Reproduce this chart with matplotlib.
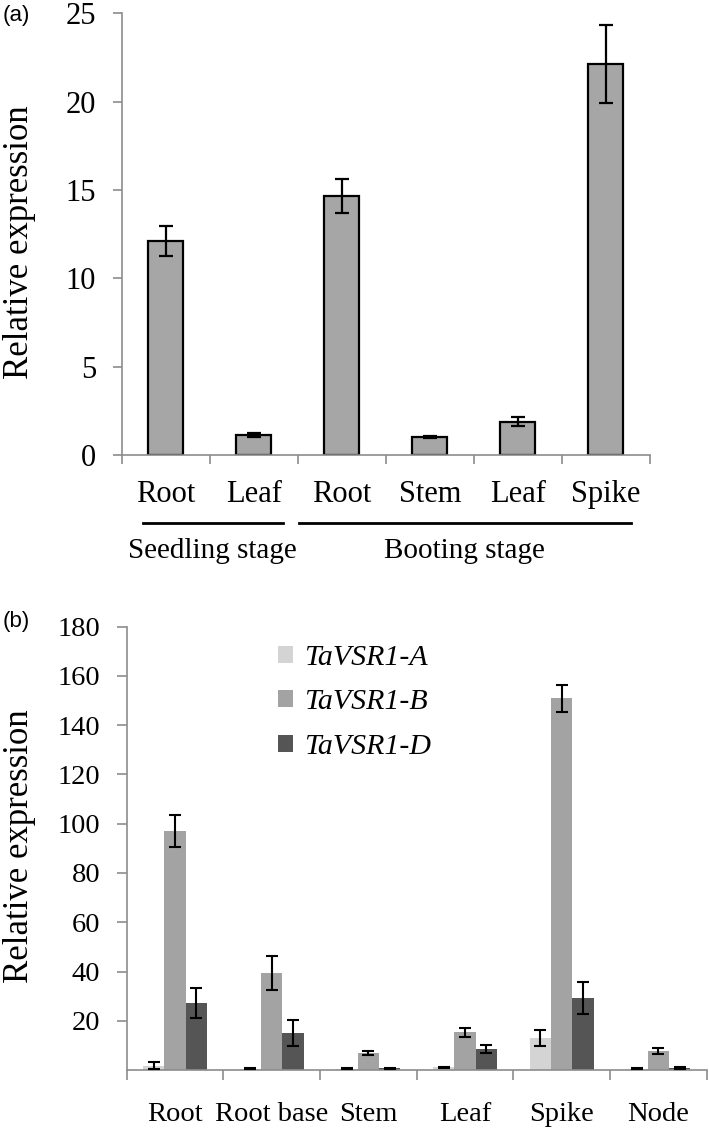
import numpy as np
import matplotlib
matplotlib.use("Agg")
import matplotlib.pyplot as plt

plt.rcParams['font.family'] = ['Liberation Serif', 'DejaVu Serif']

# panel (a)
a_tissues = ["Root", "Leaf", "Root", "Stem", "Leaf", "Spike"]
a_values = [12.1, 1.13, 14.65, 1.03, 1.88, 22.15]
a_errors = [0.85, 0.1, 0.95, 0.06, 0.25, 2.2]
a_groups = ["Seedling stage", "Booting stage"]

# panel (b)
b_tissues = ["Root", "Root base", "Stem", "Leaf", "Spike", "Node"]
b_genes = ["TaVSR1-A", "TaVSR1-B", "TaVSR1-D"]
b_A = [1.8, 0.6, 0.5, 1.2, 12.9, 0.5]
b_A_err = [1.3, 0.2, 0.2, 0.2, 3.2, 0.2]
b_B = [97.0, 39.4, 7.0, 15.4, 151.0, 7.8]
b_B_err = [6.5, 7.0, 0.7, 1.8, 5.5, 1.2]
b_D = [27.3, 15.1, 0.7, 8.5, 29.1, 0.8]
b_D_err = [6.0, 5.4, 0.3, 1.5, 6.5, 0.3]

spine_col = "#8c8c8c"

fig = plt.figure(figsize=(7.09, 11.28), dpi=100)

# ---------------- (a)
ax = fig.add_axes([0.1716, 0.5966, 0.745, 0.3916])
x = np.arange(len(a_tissues)) + 0.5
ax.bar(x, a_values, width=0.40, color="#a6a6a6", edgecolor="black", linewidth=1.6, zorder=2)
ax.errorbar(x, a_values, yerr=a_errors, fmt="none", ecolor="black", elinewidth=1.6,
            capsize=5, capthick=1.6, zorder=3)
ax.set_xlim(0, len(a_tissues))
ax.set_ylim(0, 25)
ax.set_yticks(np.arange(0, 26, 5))
ax.set_xticks(np.arange(0, len(a_tissues) + 1))
ax.set_xticklabels([])
ax.set_xticks(x, minor=True)
ax.set_xticklabels(a_tissues, minor=True)
ax.tick_params(axis="x", which="minor", length=0, pad=18, labelsize=22)
ax.tick_params(axis="x", which="major", length=6.5, width=1.2, color=spine_col, direction="out")
ax.tick_params(axis="y", length=6.5, width=1.2, color=spine_col, pad=12, labelsize=22)
for s in ["top", "right"]:
    ax.spines[s].set_visible(False)
for s in ["left", "bottom"]:
    ax.spines[s].set_color(spine_col)
    ax.spines[s].set_linewidth(1.2)

tr = ax.get_xaxis_transform()
ax.plot([0.24, 1.83], [-0.153, -0.153], color="black", lw=2, transform=tr, clip_on=False)
ax.plot([2.02, 5.78], [-0.153, -0.153], color="black", lw=2, transform=tr, clip_on=False)
ax.text(1.03, -0.218, a_groups[0], transform=tr, ha="center", va="center", fontsize=21)
ax.text(3.89, -0.218, a_groups[1], transform=tr, ha="center", va="center", fontsize=21)

fig.text(0.027, 0.785, "Relative expression", rotation=90, ha="center", va="center", fontsize=25)
fig.text(0.004, 0.986, "(a)", family="Liberation Sans", fontsize=16, ha="left", va="center")

# ---------------- (b)
bx = fig.add_axes([0.1787, 0.0514, 0.818, 0.393])
xb = np.arange(len(b_tissues)) + 0.5
w = 0.22
ek = dict(fmt="none", ecolor="black", elinewidth=1.5, capsize=4, capthick=1.5, zorder=3)
bx.bar(xb - w, b_A, width=w, color="#d4d4d4", label=b_genes[0], zorder=2)
bx.bar(xb, b_B, width=w, color="#a3a3a3", label=b_genes[1], zorder=2)
bx.bar(xb + w, b_D, width=w, color="#555555", label=b_genes[2], zorder=2)
bx.errorbar(xb - w, b_A, yerr=b_A_err, **ek)
bx.errorbar(xb, b_B, yerr=b_B_err, **ek)
bx.errorbar(xb + w, b_D, yerr=b_D_err, **ek)
bx.set_xlim(0, len(b_tissues))
bx.set_ylim(0, 180)
bx.set_yticks(np.arange(20, 181, 20))
bx.set_xticks(np.arange(0, len(b_tissues) + 1))
bx.set_xticklabels([])
bx.set_xticks(xb, minor=True)
bx.set_xticklabels(b_tissues, minor=True)
bx.tick_params(axis="x", which="minor", length=0, pad=23, labelsize=20.5)
bx.tick_params(axis="x", which="major", length=7, width=1.2, color=spine_col, direction="out")
bx.tick_params(axis="y", length=7, width=1.2, color=spine_col, pad=12, labelsize=20.5)
for s in ["top", "right"]:
    bx.spines[s].set_visible(False)
for s in ["left", "bottom"]:
    bx.spines[s].set_color(spine_col)
    bx.spines[s].set_linewidth(1.2)

leg = bx.legend(loc="upper left", bbox_to_anchor=(0.215, 1.02), frameon=False,
                handlelength=0.5, handleheight=0.5, handletextpad=0.35,
                labelspacing=0.62, prop={"family": "Liberation Serif", "style": "italic", "size": 21.5})

fig.text(0.027, 0.25, "Relative expression", rotation=90, ha="center", va="center", fontsize=25)
fig.text(0.004, 0.449, "(b)", family="Liberation Sans", fontsize=16, ha="left", va="center")

fig.savefig("out.png", dpi=100)
